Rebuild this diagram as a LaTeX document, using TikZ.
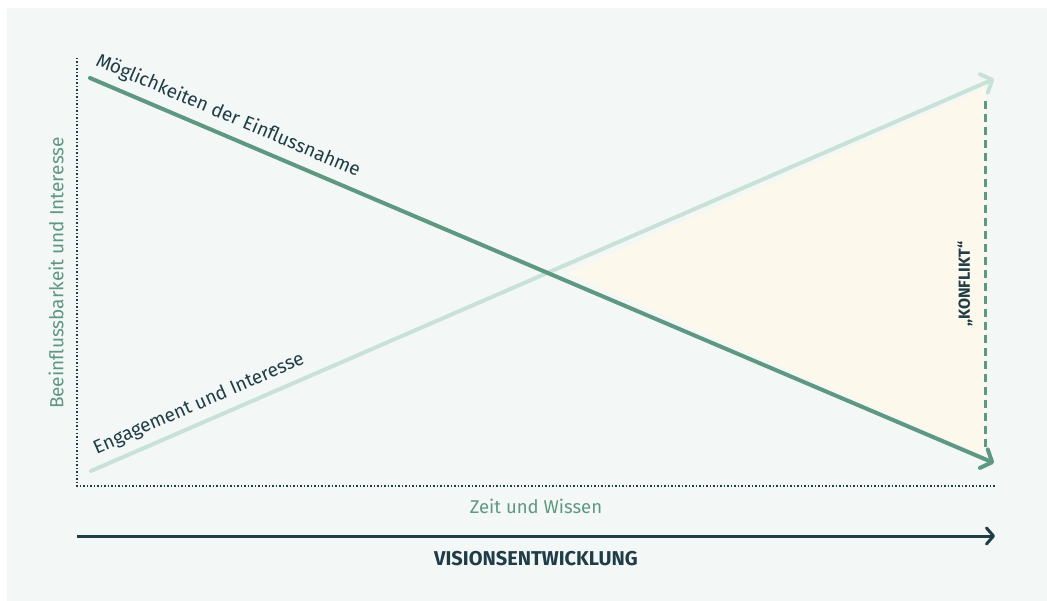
\documentclass[tikz,border=0pt]{standalone}
\usepackage{fontspec}
\setmainfont{Fira Sans}
\usetikzlibrary{arrows.meta}
\definecolor{panel}{HTML}{F3F7F6}
\definecolor{sage}{HTML}{5F9882}
\definecolor{mint}{HTML}{C9E2D8}
\definecolor{navy}{HTML}{1F3D47}
\definecolor{cream}{HTML}{FDF8EC}
\tikzset{axis line/.style={navy, line width=1.5pt, dotted},
         trend/.style={line width=4pt, line cap=round, -{Straight Barb[length=9pt,width=20pt,round]}},
         trend label/.style={text=navy, font=\fontsize{19}{19}\selectfont, inner sep=0pt}}

\begin{document}
\begin{tikzpicture}[x=1pt,y=-1pt]
    \useasboundingbox (0,0) rectangle (1047,601);
    \fill[panel] (7,8) rectangle (1047,601);
    \coordinate (origin) at (77,486);
    \coordinate (ytop) at (77,58);
    \coordinate (xend) at (995,486);
    \coordinate (highStart) at (90,78);
    \coordinate (highEnd) at (994,463);
    \coordinate (lowStart) at (91,471);
    \coordinate (lowEnd) at (994,79);
    \coordinate (cross) at (567,273);
    \coordinate (gapTop) at (985,88);
    \coordinate (gapBottom) at (985,456);
    % conflict zone first, then the lines
    \fill[cream] (cross)--(gapTop)--(gapBottom)--cycle;
    \draw[sage, line width=3pt, dash pattern=on 8pt off 5pt] (985,101) -- (985,447);
    \draw[axis line] (ytop)--(origin)--(xend);
    \draw[trend, mint] (lowStart) -- (lowEnd);
    \draw[trend, sage] (highStart) -- (highEnd);
    \node[trend label, rotate=-23.1] (highLabel) at (228,116) {Möglichkeiten der Einflussnahme};
    \node[trend label, rotate=23.5] (lowLabel) at (199,404) {Engagement und Interesse};
    \node[text=sage, rotate=90, font=\fontsize{19}{19}\selectfont] (yLabel) at (56,273) {Beeinflussbarkeit und Interesse};
    \node[text=navy, rotate=90, font=\fontsize{16}{16}\selectfont\bfseries] (conflict) at (965,284) {„KONFLIKT“};
    \node[text=sage, font=\fontsize{18.5}{18.5}\selectfont] (xLabel) at (536,506) {Zeit und Wissen};
    \coordinate (visionStart) at (77,536);
    \coordinate (visionEnd) at (995,536);
    \draw[navy, line width=3pt, -{Straight Barb[length=7pt,width=16pt,round]}] (visionStart) -- (visionEnd);
    \node[text=navy, font=\fontsize{20}{20}\selectfont\bfseries] (vision) at (536,559) {VISIONSENTWICKLUNG};
  \end{tikzpicture}
\end{document}
